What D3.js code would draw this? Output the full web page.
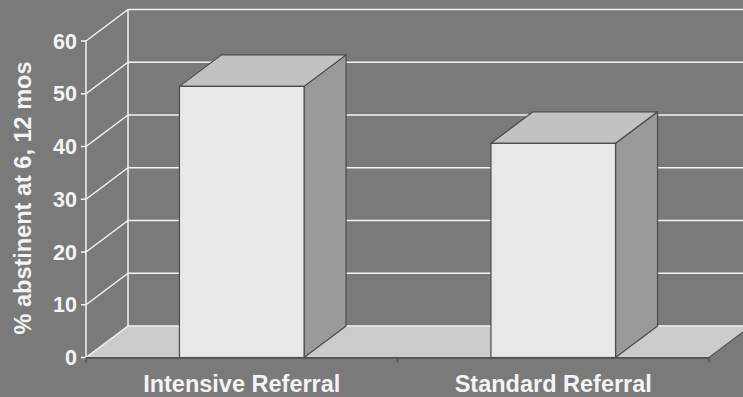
<!DOCTYPE html>
<html>
<head>
<meta charset="utf-8">
<script src="https://cdn.jsdelivr.net/npm/d3@7"></script>
<style>
  body { margin: 0; background: #7a7a7a; }
  svg { display: block; font-family: "Liberation Sans", Arial, sans-serif; }
</style>
</head>
<body>
<div id="chart-area"></div>
<script>
var categories = ["Intensive Referral", "Standard Referral"];
var values = [51.4, 40.6];
var yTicks = [0, 10, 20, 30, 40, 50, 60];
var yTitle = "% abstinent at 6, 12 mos";

var width = 743, height = 397;
var dx = 42, dy = -31.5;   // depth offset

var svg = d3.select("#chart-area")
  .append("svg")
  .attr("width", width)
  .attr("height", height);

svg.append("rect").attr("width", width).attr("height", height).attr("fill", "#7a7a7a");

var x = d3.scaleBand()
  .domain(categories)
  .range([86, 709]);

var y = d3.scaleLinear()
  .domain([0, 60])
  .range([357.5, 41]);

var x0 = x.range()[0], x1 = x.range()[1];

// floor
svg.append("path")
  .attr("d", "M" + x0 + "," + y(0) + "L" + x1 + "," + y(0) + "L" + (x1 + dx) + "," + (y(0) + dy) + "L" + (x0 + dx) + "," + (y(0) + dy) + "Z")
  .attr("fill", "#cbcbcb");

// back gridlines
svg.selectAll(".grid")
  .data(yTicks)
  .enter()
  .append("line")
  .attr("x1", x0 + dx)
  .attr("x2", x1 + dx)
  .attr("y1", (d) => y(d) + dy)
  .attr("y2", (d) => y(d) + dy)
  .attr("stroke", "#f4f4f4")
  .attr("stroke-width", 1.5);

// side wall diagonals
svg.selectAll(".diag")
  .data(yTicks)
  .enter()
  .append("line")
  .attr("x1", x0)
  .attr("x2", x0 + dx)
  .attr("y1", (d) => y(d))
  .attr("y2", (d) => y(d) + dy)
  .attr("stroke", "#f4f4f4")
  .attr("stroke-width", 1.5);

// back vertical edge
svg.append("line")
  .attr("x1", x0 + dx).attr("x2", x0 + dx)
  .attr("y1", y(0) + dy).attr("y2", y(60) + dy)
  .attr("stroke", "#f4f4f4").attr("stroke-width", 1.5);

// right floor edge
svg.append("line")
  .attr("x1", x1).attr("x2", x1 + dx)
  .attr("y1", y(0)).attr("y2", y(0) + dy)
  .attr("stroke", "#555").attr("stroke-width", 1.2);

// left axis
svg.append("line")
  .attr("x1", x0).attr("x2", x0)
  .attr("y1", y(0)).attr("y2", y(60))
  .attr("stroke", "#f4f4f4").attr("stroke-width", 1.5);

svg.selectAll(".ytick")
  .data(yTicks)
  .enter()
  .append("line")
  .attr("x1", x0 - 5)
  .attr("x2", x0)
  .attr("y1", (d) => y(d))
  .attr("y2", (d) => y(d))
  .attr("stroke", "#f4f4f4")
  .attr("stroke-width", 1.5);

svg.selectAll(".ylabel")
  .data(yTicks)
  .enter()
  .append("text")
  .attr("x", x0 - 9)
  .attr("y", (d) => y(d))
  .attr("dy", "0.36em")
  .attr("text-anchor", "end")
  .attr("font-size", 21.5)
  .attr("font-weight", "bold")
  .attr("fill", "#f4f4f4")
  .text((d) => d);

svg.append("text")
  .attr("transform", "translate(31,198) rotate(-90)")
  .attr("text-anchor", "middle")
  .attr("font-size", 23.5)
  .attr("font-weight", "bold")
  .attr("fill", "#f4f4f4")
  .text(yTitle);

// bars
var bw = x.bandwidth() * 0.4;
var bars = svg.selectAll(".bar")
  .data(categories.map((c, i) => ({ cat: c, value: values[i] })))
  .enter()
  .append("g");

function bx(d) { return x(d.cat) + (x.bandwidth() - bw) / 2; }

bars.append("path")
  .attr("d", (d) => {
    var l = bx(d), r = l + bw, t = y(d.value);
    return "M" + r + "," + t + "L" + (r + dx) + "," + (t + dy) + "L" + (r + dx) + "," + (y(0) + dy) + "L" + r + "," + y(0) + "Z";
  })
  .attr("fill", "#9a9a9a")
  .attr("stroke", "#4a4a4a")
  .attr("stroke-width", 1.2)
  .attr("stroke-linejoin", "round");

bars.append("path")
  .attr("d", (d) => {
    var l = bx(d), r = l + bw, t = y(d.value);
    return "M" + l + "," + t + "L" + (l + dx) + "," + (t + dy) + "L" + (r + dx) + "," + (t + dy) + "L" + r + "," + t + "Z";
  })
  .attr("fill", "#c2c2c2")
  .attr("stroke", "#4a4a4a")
  .attr("stroke-width", 1.2)
  .attr("stroke-linejoin", "round");

bars.append("rect")
  .attr("x", (d) => bx(d))
  .attr("y", (d) => y(d.value))
  .attr("width", bw)
  .attr("height", (d) => y(0) - y(d.value))
  .attr("fill", "#e8e8e8")
  .attr("stroke", "#4a4a4a")
  .attr("stroke-width", 1.2);

// bottom axis
svg.append("line")
  .attr("x1", x0).attr("x2", x1)
  .attr("y1", y(0) + 0.5).attr("y2", y(0) + 0.5)
  .attr("stroke", "#555").attr("stroke-width", 2);

svg.selectAll(".xtick")
  .data([x0, (x0 + x1) / 2, x1])
  .enter()
  .append("line")
  .attr("x1", (d) => d).attr("x2", (d) => d)
  .attr("y1", y(0)).attr("y2", y(0) + 5)
  .attr("stroke", "#555").attr("stroke-width", 1.5);

svg.selectAll(".xlabel")
  .data(categories)
  .enter()
  .append("text")
  .attr("x", (d) => x(d) + x.bandwidth() / 2)
  .attr("y", 392)
  .attr("text-anchor", "middle")
  .attr("font-size", 23.5)
  .attr("font-weight", "bold")
  .attr("fill", "#f4f4f4")
  .text((d) => d);
</script>
</body>
</html>
